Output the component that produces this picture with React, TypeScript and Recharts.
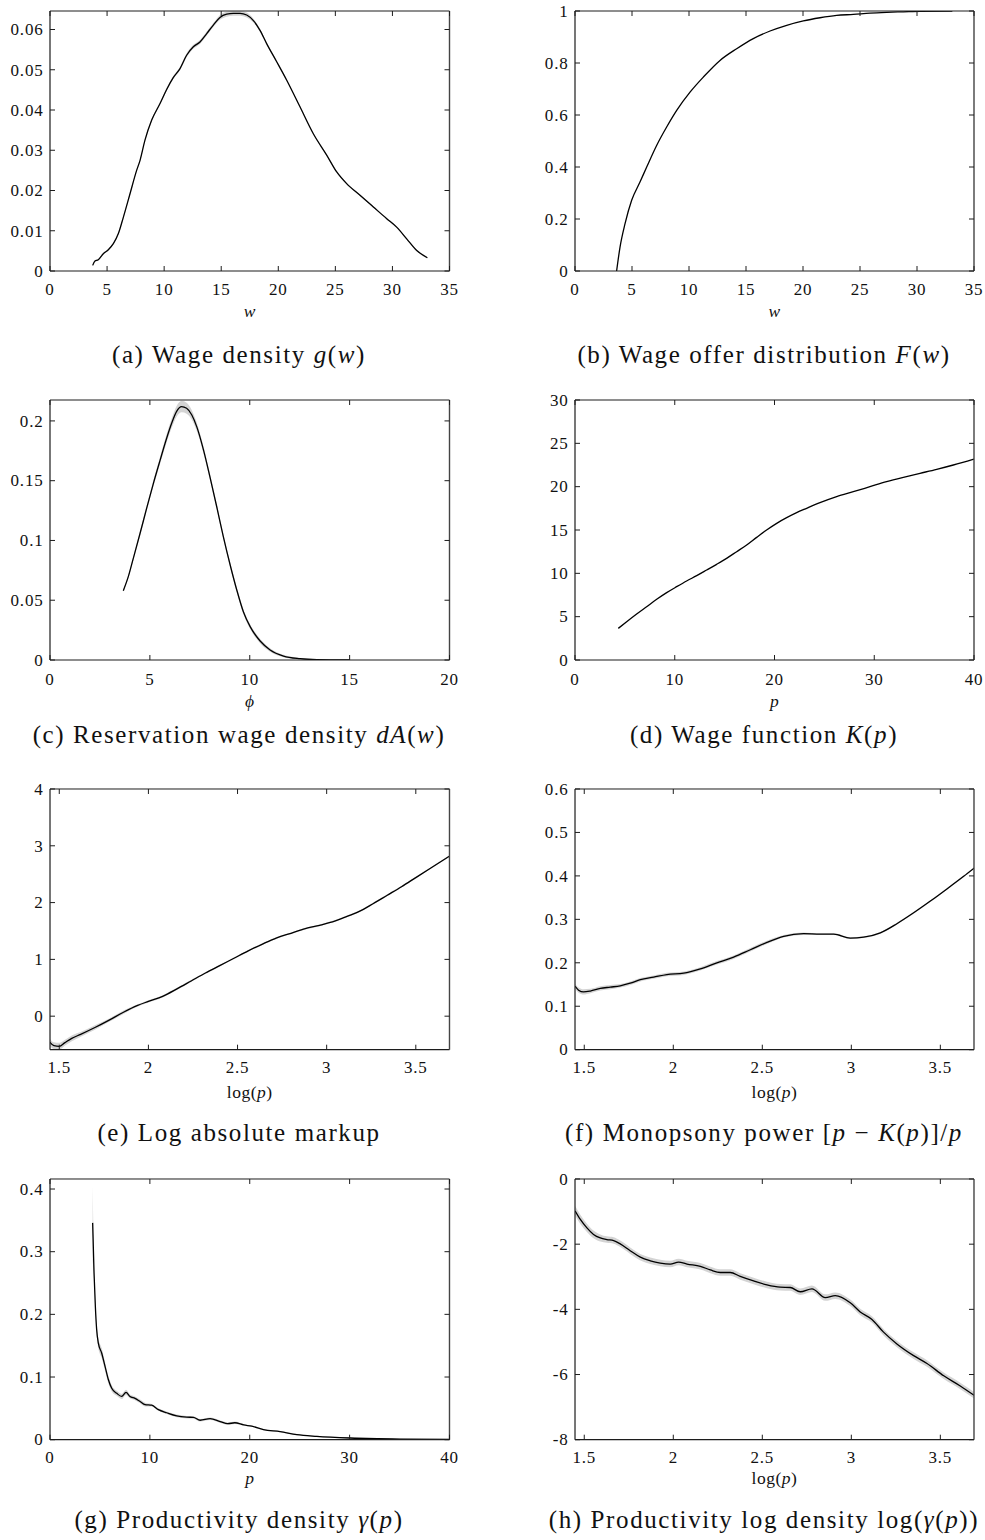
import { ComposedChart, Area, Line, XAxis, YAxis } from 'recharts';

const SERIF = '"Liberation Serif", "Times New Roman", serif';
const INK = '#111111';
const FRAME = '#1c1c1c';
const BAND = '#d4d4d4';

// (a) wage density g(w)
const wageW = [3.74, 3.94, 4.23, 4.67, 5.11, 5.55, 5.99, 6.43, 7.01, 7.59, 7.89, 8.32, 8.91, 9.64, 10.22, 10.81, 11.39, 11.97, 12.56, 13.14, 13.73, 14.31, 14.89, 15.48, 16.06, 16.65, 17.23, 17.82, 18.4, 18.98, 19.86, 20.74, 21.9, 23.07, 24.24, 25.12, 25.99, 27.16, 28.33, 29.5, 30.37, 31.25, 32.13, 33.06];
const wageG = [0.0014, 0.0025, 0.0028, 0.0043, 0.0053, 0.0068, 0.0093, 0.0134, 0.0192, 0.025, 0.0275, 0.0325, 0.0375, 0.0416, 0.0451, 0.0481, 0.0503, 0.0536, 0.0557, 0.0569, 0.059, 0.0611, 0.063, 0.0638, 0.064, 0.064, 0.0636, 0.0622, 0.0598, 0.0565, 0.052, 0.0474, 0.0408, 0.0341, 0.0288, 0.0246, 0.0217, 0.0188, 0.0159, 0.013, 0.0109, 0.008, 0.0051, 0.0033];
const wageBand = [0.0002, 0.0002, 0.0002, 0.0002, 0.0002, 0.0002, 0.0002, 0.0003, 0.0003, 0.0003, 0.0003, 0.0003, 0.0003, 0.0003, 0.0004, 0.0004, 0.0004, 0.0005, 0.0005, 0.0005, 0.0005, 0.0005, 0.0006, 0.0006, 0.0006, 0.0006, 0.0006, 0.0005, 0.0004, 0.0003, 0.0003, 0.0002, 0.0002, 0.0002, 0.0002, 0.0002, 0.0002, 0.0002, 0.0002, 0.0002, 0.0002, 0.0002, 0.0002, 0.0002];

// (b) wage offer distribution F(w)
const offerW = [3.65, 3.95, 4.39, 4.97, 5.7, 6.29, 7.16, 8.04, 8.92, 10.09, 11.26, 12.72, 14.18, 15.64, 17.11, 18.57, 20.03, 21.49, 22.95, 24.42, 25.88, 27.34, 28.8, 30.26, 33.1];
const offerF = [0, 0.092, 0.182, 0.272, 0.342, 0.4, 0.483, 0.554, 0.618, 0.688, 0.746, 0.81, 0.855, 0.894, 0.923, 0.945, 0.962, 0.974, 0.983, 0.987, 0.992, 0.995, 0.997, 0.999, 1.0];

// (c) reservation wage density dA(w)
const resPhi = [3.67, 3.92, 4.17, 4.51, 4.84, 5.18, 5.51, 5.84, 6.09, 6.34, 6.59, 6.84, 7.1, 7.35, 7.68, 8.01, 8.35, 8.68, 9.02, 9.35, 9.68, 10.02, 10.52, 11.02, 11.69, 12.52, 13.36, 15.0];
const resDens = [0.058, 0.0697, 0.085, 0.106, 0.127, 0.148, 0.167, 0.1855, 0.198, 0.208, 0.212, 0.2106, 0.205, 0.195, 0.176, 0.153, 0.128, 0.103, 0.0795, 0.0586, 0.0404, 0.0279, 0.0159, 0.0084, 0.0033, 0.0011, 0.0003, 0];
const resBand = [0.001, 0.0012, 0.0015, 0.002, 0.0022, 0.0025, 0.003, 0.0035, 0.004, 0.0045, 0.0048, 0.0045, 0.004, 0.0035, 0.003, 0.0025, 0.0022, 0.002, 0.002, 0.002, 0.002, 0.002, 0.0018, 0.0015, 0.001, 0.0006, 0.0003, 0];

// (d) wage function K(p)
const wageFnP = [4.34, 5.18, 6.18, 7.18, 8.19, 9.19, 10.19, 11.19, 12.2, 13.2, 14.2, 15.2, 16.21, 17.21, 18.21, 19.21, 20.22, 21.22, 22.22, 23.22, 24.56, 26.23, 27.9, 29.57, 31.24, 32.92, 34.59, 36.26, 37.93, 40];
const wageFnK = [3.65, 4.42, 5.31, 6.15, 7.0, 7.77, 8.46, 9.12, 9.73, 10.38, 11.04, 11.73, 12.5, 13.27, 14.15, 15.0, 15.77, 16.42, 17.0, 17.5, 18.15, 18.85, 19.42, 20.0, 20.58, 21.08, 21.54, 22.0, 22.5, 23.19];

// (e) log absolute markup against log(p)
const markupX = [1.448, 1.47, 1.5, 1.53, 1.57, 1.62, 1.7, 1.78, 1.86, 1.94, 2.0, 2.08, 2.16, 2.24, 2.32, 2.4, 2.48, 2.56, 2.64, 2.72, 2.8, 2.88, 2.96, 3.02, 3.1, 3.18, 3.26, 3.34, 3.42, 3.5, 3.58, 3.69];
const markupY = [-0.46, -0.52, -0.53, -0.47, -0.39, -0.32, -0.2, -0.07, 0.07, 0.19, 0.26, 0.35, 0.48, 0.62, 0.76, 0.89, 1.02, 1.15, 1.27, 1.38, 1.46, 1.54, 1.6, 1.65, 1.74, 1.84, 1.98, 2.13, 2.28, 2.44, 2.6, 2.82];
const markupBand = [0.06, 0.06, 0.06, 0.05, 0.05, 0.04, 0.04, 0.03, 0.03, 0.02, 0.02, 0.02, 0.02, 0.02, 0.015, 0.015, 0.015, 0.015, 0.015, 0.015, 0.015, 0.015, 0.015, 0.015, 0.015, 0.015, 0.015, 0.015, 0.015, 0.015, 0.015, 0.015];

// (f) monopsony power [p - K(p)]/p
const monoX = [1.449, 1.468, 1.496, 1.534, 1.59, 1.646, 1.702, 1.758, 1.815, 1.89, 1.964, 2.058, 2.152, 2.245, 2.339, 2.433, 2.526, 2.62, 2.732, 2.826, 2.901, 2.994, 3.069, 3.163, 3.256, 3.35, 3.444, 3.537, 3.631, 3.69];
const monoY = [0.146, 0.137, 0.133, 0.135, 0.141, 0.144, 0.147, 0.153, 0.161, 0.167, 0.173, 0.176, 0.186, 0.2, 0.213, 0.23, 0.247, 0.261, 0.267, 0.266, 0.266, 0.257, 0.259, 0.269, 0.29, 0.315, 0.342, 0.37, 0.399, 0.418];
const monoBand = [0.006, 0.006, 0.006, 0.005, 0.005, 0.005, 0.004, 0.004, 0.004, 0.004, 0.004, 0.004, 0.004, 0.004, 0.004, 0.004, 0.004, 0.003, 0.003, 0.002, 0.002, 0.002, 0.002, 0.002, 0.002, 0.002, 0.002, 0.002, 0.002, 0.002];

// (g) productivity density gamma(p)
const prodP = [4.27, 4.41, 4.54, 4.67, 4.84, 5.18, 5.51, 5.84, 6.18, 6.68, 7.18, 7.61, 8.01, 8.51, 9.02, 9.52, 10.18, 10.85, 11.69, 12.69, 13.69, 14.36, 15.03, 16.03, 17.03, 17.8, 18.5, 19.4, 20.2, 21.37, 23.04, 24.71, 26.71, 30.05, 35.06, 40];
const prodG = [0.346, 0.266, 0.213, 0.176, 0.154, 0.138, 0.117, 0.096, 0.082, 0.074, 0.069, 0.0755, 0.069, 0.066, 0.061, 0.056, 0.055, 0.048, 0.043, 0.038, 0.036, 0.0356, 0.031, 0.0335, 0.029, 0.0255, 0.027, 0.0235, 0.0215, 0.016, 0.0128, 0.008, 0.0053, 0.0027, 0.001, 0.0005];
const prodBand = [0.06, 0.012, 0.01, 0.009, 0.008, 0.008, 0.007, 0.006, 0.005, 0.004, 0.004, 0.004, 0.003, 0.003, 0.003, 0.003, 0.002, 0.002, 0.002, 0.002, 0.002, 0.002, 0.002, 0.002, 0.002, 0.002, 0.002, 0.001, 0.001, 0.001, 0.001, 0.001, 0.001, 0.001, 0.001, 0.001];

// (h) productivity log density log(gamma(p)) against log(p)
const logDensX = [1.449, 1.478, 1.515, 1.552, 1.59, 1.627, 1.665, 1.702, 1.758, 1.815, 1.871, 1.927, 1.983, 2.03, 2.077, 2.152, 2.208, 2.264, 2.32, 2.376, 2.451, 2.526, 2.6, 2.657, 2.713, 2.779, 2.854, 2.91, 2.994, 3.05, 3.116, 3.181, 3.256, 3.35, 3.425, 3.519, 3.612, 3.69];
const logDensY = [-0.98, -1.24, -1.5, -1.7, -1.81, -1.86, -1.89, -1.99, -2.2, -2.4, -2.51, -2.58, -2.61, -2.55, -2.61, -2.68, -2.79, -2.87, -2.87, -2.99, -3.13, -3.25, -3.32, -3.33, -3.46, -3.37, -3.64, -3.58, -3.8, -4.08, -4.31, -4.7, -5.06, -5.42, -5.66, -6.04, -6.35, -6.64];
const logDensBand = [0.15, 0.14, 0.13, 0.12, 0.11, 0.1, 0.1, 0.1, 0.1, 0.1, 0.1, 0.1, 0.1, 0.1, 0.1, 0.1, 0.1, 0.1, 0.1, 0.1, 0.1, 0.1, 0.1, 0.1, 0.1, 0.1, 0.1, 0.1, 0.1, 0.1, 0.1, 0.1, 0.1, 0.1, 0.1, 0.1, 0.1, 0.1];

// axis ticks
const wageTicks = [0, 5, 10, 15, 20, 25, 30, 35];
const phiTicks = [0, 5, 10, 15, 20];
const pTicks = [0, 10, 20, 30, 40];
const logPTicks = [1.5, 2, 2.5, 3, 3.5];
const logPDomain: [number, number] = [1.448, 3.689];

type Seg = [string, boolean];

interface PanelSpec {
  id: string;
  col: number;
  row: number;
  x: number[];
  y: number[];
  band?: number[];
  xDomain: [number, number];
  xTicks: number[];
  yDomain: [number, number];
  yTicks: number[];
  axisLabel: Seg[];
  caption: Seg[];
}

const COLS = [
  { left: 0, axisWidth: 50, plotWidth: 399.5, captionX: 239 },
  { left: 520, axisWidth: 55, plotWidth: 399, captionX: 764 },
];

const ROWS = [
  { plotTop: 10.7, plotHeight: 260, tickGap: 24.3, labelY: 316.7, captionY: 363 },
  { plotTop: 400, plotHeight: 260, tickGap: 25, labelY: 706.7, captionY: 743.3 },
  { plotTop: 789.3, plotHeight: 260.7, tickGap: 23.3, labelY: 1098, captionY: 1141 },
  { plotTop: 1179.3, plotHeight: 260.7, tickGap: 23.3, labelY: 1484, captionY: 1527.5 },
];

// the mirror axes need a non-zero size to be drawn at all
const MIRROR_SIZE = 1;
const TOP_PAD = 10;
const RIGHT_PAD = 12;
const TICK_LEN = 5;
const TICK_FONT = 17;

const PANELS: PanelSpec[] = [
  {
    id: 'a', col: 0, row: 0, x: wageW, y: wageG, band: wageBand,
    xDomain: [0, 35], xTicks: wageTicks,
    yDomain: [0, 0.0646], yTicks: [0, 0.01, 0.02, 0.03, 0.04, 0.05, 0.06],
    axisLabel: [['w', true]],
    caption: [['(a) Wage density ', false], ['g', true], ['(', false], ['w', true], [')', false]],
  },
  {
    id: 'b', col: 1, row: 0, x: offerW, y: offerF,
    xDomain: [0, 35], xTicks: wageTicks,
    yDomain: [0, 1], yTicks: [0, 0.2, 0.4, 0.6, 0.8, 1],
    axisLabel: [['w', true]],
    caption: [['(b) Wage offer distribution ', false], ['F', true], ['(', false], ['w', true], [')', false]],
  },
  {
    id: 'c', col: 0, row: 1, x: resPhi, y: resDens, band: resBand,
    xDomain: [0, 20], xTicks: phiTicks,
    yDomain: [0, 0.2175], yTicks: [0, 0.05, 0.1, 0.15, 0.2],
    axisLabel: [['\u03D5', true]],
    caption: [['(c) Reservation wage density ', false], ['dA', true], ['(', false], ['w', true], [')', false]],
  },
  {
    id: 'd', col: 1, row: 1, x: wageFnP, y: wageFnK,
    xDomain: [0, 40], xTicks: pTicks,
    yDomain: [0, 30], yTicks: [0, 5, 10, 15, 20, 25, 30],
    axisLabel: [['p', true]],
    caption: [['(d) Wage function ', false], ['K', true], ['(', false], ['p', true], [')', false]],
  },
  {
    id: 'e', col: 0, row: 2, x: markupX, y: markupY, band: markupBand,
    xDomain: logPDomain, xTicks: logPTicks,
    yDomain: [-0.59, 4], yTicks: [0, 1, 2, 3, 4],
    axisLabel: [['log(', false], ['p', true], [')', false]],
    caption: [['(e) Log absolute markup', false]],
  },
  {
    id: 'f', col: 1, row: 2, x: monoX, y: monoY, band: monoBand,
    xDomain: logPDomain, xTicks: logPTicks,
    yDomain: [0, 0.6], yTicks: [0, 0.1, 0.2, 0.3, 0.4, 0.5, 0.6],
    axisLabel: [['log(', false], ['p', true], [')', false]],
    caption: [['(f) Monopsony power [', false], ['p', true], [' \u2212 ', false], ['K', true], ['(', false], ['p', true], [')]/', false], ['p', true]],
  },
  {
    id: 'g', col: 0, row: 3, x: prodP, y: prodG, band: prodBand,
    xDomain: [0, 40], xTicks: pTicks,
    yDomain: [0, 0.416], yTicks: [0, 0.1, 0.2, 0.3, 0.4],
    axisLabel: [['p', true]],
    caption: [['(g) Productivity density ', false], ['\u03B3', true], ['(', false], ['p', true], [')', false]],
  },
  {
    id: 'h', col: 1, row: 3, x: logDensX, y: logDensY, band: logDensBand,
    xDomain: logPDomain, xTicks: logPTicks,
    yDomain: [-8, 0], yTicks: [-8, -6, -4, -2, 0],
    axisLabel: [['log(', false], ['p', true], [')', false]],
    caption: [['(h) Productivity log density log(', false], ['\u03B3', true], ['(', false], ['p', true], ['))', false]],
  },
];

const tickText = {
  fontFamily: SERIF,
  fontSize: TICK_FONT,
  fill: INK,
  letterSpacing: 0.8,
};

function BottomTick(props: any) {
  const { x, y, payload, gap } = props;
  return (
    <g>
      <line x1={x} y1={y} x2={x} y2={y - TICK_LEN} stroke={FRAME} strokeWidth={1} />
      <text x={x} y={y + gap} textAnchor="middle" {...tickText}>
        {String(payload.value)}
      </text>
    </g>
  );
}

function TopTick(props: any) {
  const { x, y } = props;
  return <line x1={x} y1={y} x2={x} y2={y + TICK_LEN} stroke={FRAME} strokeWidth={1} />;
}

function LeftTick(props: any) {
  const { x, y, payload } = props;
  return (
    <g>
      <line x1={x} y1={y} x2={x + TICK_LEN} y2={y} stroke={FRAME} strokeWidth={1} />
      <text x={x - 6.5} y={y} dy="0.34em" textAnchor="end" {...tickText}>
        {String(payload.value)}
      </text>
    </g>
  );
}

function RightTick(props: any) {
  const { x, y } = props;
  return <line x1={x} y1={y} x2={x - TICK_LEN} y2={y} stroke={FRAME} strokeWidth={1} />;
}

function MathText({ segs, x, y, size, spacing }: { segs: Seg[]; x: number; y: number; size: number; spacing: number }) {
  return (
    <text x={x} y={y} textAnchor="middle" fontFamily={SERIF} fontSize={size} fill={INK} letterSpacing={spacing}>
      {segs.map(([t, italic], i) => (
        <tspan key={i} fontStyle={italic ? 'italic' : 'normal'}>
          {t}
        </tspan>
      ))}
    </text>
  );
}

function Panel({ spec }: { spec: PanelSpec }) {
  const col = COLS[spec.col];
  const row = ROWS[spec.row];
  const data = spec.x.map((x, i) => ({
    x,
    y: spec.y[i],
    band: spec.band ? [spec.y[i] - spec.band[i], spec.y[i] + spec.band[i]] : null,
  }));
  const width = col.axisWidth + col.plotWidth + MIRROR_SIZE + RIGHT_PAD;
  const height = TOP_PAD + MIRROR_SIZE + row.plotHeight + 40;

  return (
    <div style={{ position: 'absolute', left: col.left, top: row.plotTop - TOP_PAD - MIRROR_SIZE }}>
      <ComposedChart
        width={width}
        height={height}
        data={data}
        margin={{ top: TOP_PAD, right: RIGHT_PAD, bottom: 0, left: 0 }}
      >
        <XAxis
          type="number"
          dataKey="x"
          domain={spec.xDomain}
          ticks={spec.xTicks}
          allowDataOverflow
          interval={0}
          height={40}
          tickSize={0}
          tickMargin={0}
          tickLine={false}
          axisLine={{ stroke: FRAME, strokeWidth: 1.2 }}
          tick={(p: any) => <BottomTick {...p} gap={row.tickGap} />}
        />
        <XAxis
          xAxisId="top"
          orientation="top"
          type="number"
          dataKey="x"
          domain={spec.xDomain}
          ticks={spec.xTicks}
          allowDataOverflow
          interval={0}
          height={MIRROR_SIZE}
          tickSize={0}
          tickMargin={0}
          tickLine={false}
          axisLine={{ stroke: FRAME, strokeWidth: 1 }}
          tick={(p: any) => <TopTick {...p} />}
        />
        <YAxis
          type="number"
          domain={spec.yDomain}
          ticks={spec.yTicks}
          allowDataOverflow
          interval={0}
          width={col.axisWidth}
          tickSize={0}
          tickMargin={0}
          tickLine={false}
          axisLine={{ stroke: FRAME, strokeWidth: 1.2 }}
          tick={(p: any) => <LeftTick {...p} />}
        />
        <YAxis
          yAxisId="right"
          orientation="right"
          type="number"
          domain={spec.yDomain}
          ticks={spec.yTicks}
          allowDataOverflow
          interval={0}
          width={MIRROR_SIZE}
          tickSize={0}
          tickMargin={0}
          tickLine={false}
          axisLine={{ stroke: '#444', strokeWidth: 1.4 }}
          tick={(p: any) => <RightTick {...p} />}
        />
        {spec.band && (
          <Area
            type="monotone"
            dataKey="band"
            stroke="none"
            fill={BAND}
            fillOpacity={1}
            isAnimationActive={false}
            activeDot={false}
          />
        )}
        {/* invisible copy bound to the mirror axes so they get a domain */}
        <Line
          xAxisId="top"
          yAxisId="right"
          type="monotone"
          dataKey="y"
          stroke="none"
          strokeWidth={0}
          dot={false}
          activeDot={false}
          isAnimationActive={false}
        />
        <Line
          type="monotone"
          dataKey="y"
          stroke="#000"
          strokeWidth={1.3}
          dot={false}
          activeDot={false}
          isAnimationActive={false}
        />
      </ComposedChart>
    </div>
  );
}

export default function App() {
  return (
    <div style={{ position: 'absolute', left: 0, top: 0, width: 985, height: 1540, background: '#fff' }}>
      {PANELS.map((spec) => (
        <Panel key={spec.id} spec={spec} />
      ))}
      <svg width={985} height={1540} style={{ position: 'absolute', left: 0, top: 0, pointerEvents: 'none' }}>
        {PANELS.map((spec) => {
          const col = COLS[spec.col];
          const row = ROWS[spec.row];
          return (
            <g key={spec.id}>
              <MathText
                segs={spec.axisLabel}
                x={col.left + col.axisWidth + col.plotWidth / 2}
                y={row.labelY}
                size={17.5}
                spacing={0.5}
              />
              <MathText segs={spec.caption} x={col.captionX} y={row.captionY} size={25} spacing={1.6} />
            </g>
          );
        })}
      </svg>
    </div>
  );
}
